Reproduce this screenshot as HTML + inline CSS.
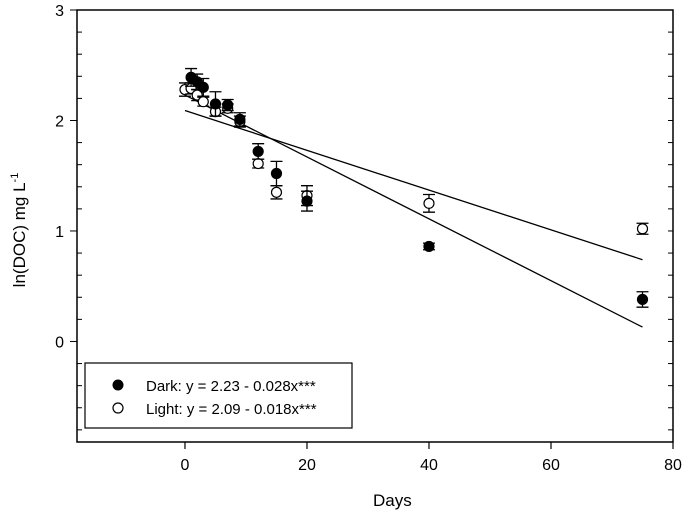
<!DOCTYPE html>
<html><head><meta charset="utf-8"><style>
body{margin:0;background:#fff;}
svg{font-family:"Liberation Sans",Arial,sans-serif;}
</style></head><body>
<svg id="chart" width="685" height="519">
<g id="g"></g>
</svg>
<script>
const xTicks=[0,20,40,60,80];
const yTicks=[0,1,2,3];
const darkX=[1,2,3,5,7,9,12,15,20,40,75];
const darkY=[2.39,2.35,2.30,2.15,2.14,2.01,1.72,1.52,1.27,0.86,0.38];
const darkErr=[0.08,0.07,0.08,0.11,0.05,0.06,0.07,0.11,0.09,0.03,0.07];
const lightX=[0,1,2,3,5,7,9,12,15,20,40,75];
const lightY=[2.28,2.29,2.23,2.17,2.08,2.11,1.99,1.61,1.35,1.32,1.25,1.02];
const lightErr=[0.06,0.05,0.05,0.04,0.04,0.04,0.05,0.04,0.06,0.09,0.08,0.05];
const darkFit=[2.23,-0.028];
const lightFit=[2.09,-0.018];
const fitRange=[0,75];

const X0=-17.7,X1=80,Y0=-0.91,Y1=3;
const L=77,R=673,T=10,B=442;
const sx=v=>L+(v-X0)/(X1-X0)*(R-L);
const sy=v=>B-(v-Y0)/(Y1-Y0)*(B-T);
const NS="http://www.w3.org/2000/svg";
const g=document.getElementById('g');
function mk(tag,attrs,parent){const e=document.createElementNS(NS,tag);for(const k in attrs)e.setAttribute(k,attrs[k]);(parent||g).appendChild(e);return e;}

const frame=mk('rect',{x:L,y:T,width:R-L,height:B-T,fill:'none',stroke:'#000','stroke-width':1.5});



xTicks.forEach(v=>{
  const t=mk('line',{x1:sx(v),x2:sx(v),y1:B,y2:B+7,stroke:'#000','stroke-width':1.2});
  
  
  const l=mk('text',{x:sx(v),y:B+28,'text-anchor':'middle','font-size':16});
  l.textContent=v;
  
  
});
for(let v=-0.8;v<=3.001;v+=0.2){
  const major=Math.abs(v-Math.round(v))<1e-6;
  const a=major?mk('line',{x1:L-7,x2:L,y1:sy(v),y2:sy(v),stroke:'#000','stroke-width':1}):mk('line',{x1:L,x2:L+5,y1:sy(v),y2:sy(v),stroke:'#000','stroke-width':1});
  
  
  const b=mk('line',{x1:R,x2:R-5,y1:sy(v),y2:sy(v),stroke:'#000','stroke-width':1});
  
  
}
yTicks.forEach(v=>{
  const l=mk('text',{x:L-13,y:sy(v)+6,'text-anchor':'end','font-size':16});
  l.textContent=v;
  
  
});

function fitLine(f,name){
  const ln=mk('line',{x1:sx(fitRange[0]),y1:sy(f[0]+f[1]*fitRange[0]),x2:sx(fitRange[1]),y2:sy(f[0]+f[1]*fitRange[1]),stroke:'#000','stroke-width':1.3});
  
  
}
fitLine(darkFit,'dark-regression-line');
fitLine(lightFit,'light-regression-line');

function series(xs,ys,es,fill,name){
  xs.forEach((x,i)=>{
    const cx=sx(x),top=sy(ys[i]+es[i]),bot=sy(ys[i]-es[i]);
    const e=mk('path',{d:`M${cx},${top}V${bot}M${cx-6},${top}H${cx+6}M${cx-6},${bot}H${cx+6}`,stroke:'#000','stroke-width':1.3,fill:'none'});
    
    
    const c=mk('circle',{cx:cx,cy:sy(ys[i]),r:5,fill:fill,stroke:'#000','stroke-width':1.2});
    
    
  });
}
series(lightX,lightY,lightErr,'#fff','light');
series(darkX,darkY,darkErr,'#000','dark');

const lg=mk('rect',{x:85,y:363,width:267,height:65,fill:'#fff',stroke:'#000','stroke-width':1.2});


const m1=mk('circle',{cx:118,cy:385,r:5,fill:'#000',stroke:'#000'});


const m2=mk('circle',{cx:118,cy:408,r:5,fill:'#fff',stroke:'#000','stroke-width':1.2});


const t1=mk('text',{x:146,y:391,'font-size':15});
t1.textContent='Dark: y = 2.23 - 0.028x***';


const t2=mk('text',{x:146,y:414,'font-size':15});
t2.textContent='Light: y = 2.09 - 0.018x***';



const xt=mk('text',{x:sx(34),y:506,'text-anchor':'middle','font-size':17});
xt.textContent='Days';


const yt=mk('text',{x:0,y:0,'text-anchor':'middle','font-size':17,transform:'translate(25,230) rotate(-90)'});
yt.innerHTML='ln(DOC) mg L<tspan dy="-7" font-size="11">-1</tspan>';


</script>
</body></html>
